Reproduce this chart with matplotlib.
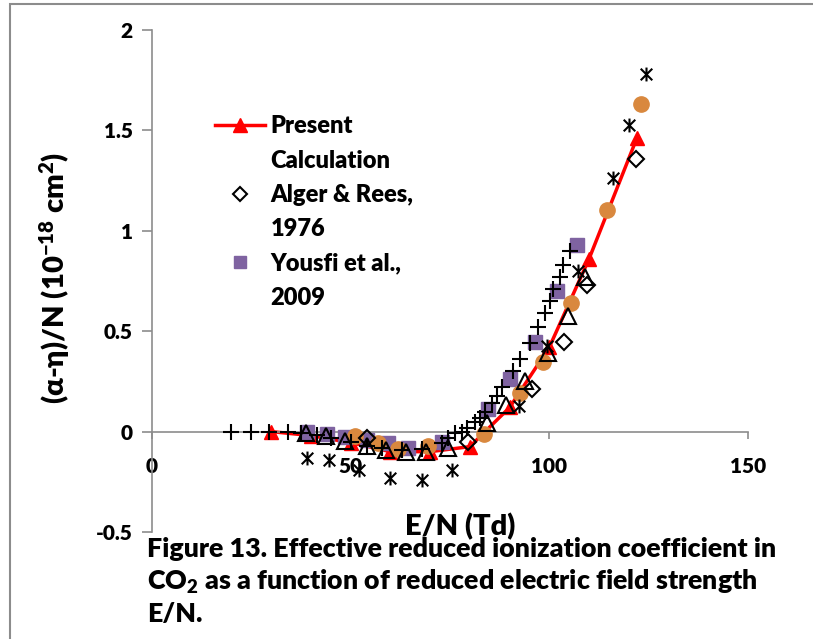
import matplotlib
matplotlib.use('Agg')
import matplotlib.pyplot as plt
from matplotlib.lines import Line2D
from matplotlib.path import Path
from matplotlib.patches import Rectangle

plt.rcParams['font.family'] = ['Lato', 'DejaVu Sans']
plt.rcParams['font.weight'] = 'heavy'
plt.rcParams['axes.labelweight'] = 'heavy'
plt.rcParams['axes.unicode_minus'] = False
plt.rcParams['mathtext.fontset'] = 'custom'
plt.rcParams['mathtext.rm'] = 'Lato:heavy'
plt.rcParams['mathtext.it'] = 'Lato:heavy'
plt.rcParams['mathtext.bf'] = 'Lato:heavy'

# present calculation (red line + triangles)
present_x = [30, 40, 50, 60, 70, 80, 90, 100, 110, 122]
present_y = [0.0, -0.02, -0.055, -0.10, -0.10, -0.075, 0.12, 0.42, 0.86, 1.46]

# Alger & Rees, 1976 (open diamonds)
alger_x = [54, 79.5, 95.6, 103.6, 109.4, 121.7]
alger_y = [-0.03, -0.05, 0.21, 0.445, 0.73, 1.36]

# Yousfi et al., 2009 (purple squares)
yousfi_x = [39, 44, 48.5, 54, 59.5, 64.5, 73, 84.5, 90, 96.5, 102, 107]
yousfi_y = [0.0, -0.01, -0.025, -0.04, -0.055, -0.08, -0.05, 0.11, 0.26, 0.445, 0.70, 0.93]

# other data sets (not in legend)
orange_x = [51, 57, 62, 69.5, 83.5, 92.5, 98.5, 105.5, 114.5, 123]
orange_y = [-0.02, -0.055, -0.085, -0.07, -0.01, 0.19, 0.345, 0.64, 1.105, 1.63]

plus_x = [20, 25, 29.5, 34.3, 37.5, 41.5, 45, 50, 54, 58, 63, 68, 73, 74.5,
          76.3, 78, 79.2, 81.3, 82.5, 83.8, 85.5, 86.8, 88, 90.8, 92.6, 95.1,
          97.1, 98.9, 100.1, 101, 102.6, 103.4, 105.2]
plus_y = [0.0, 0.0, 0.0, 0.0, -0.005, -0.015, -0.03, -0.05, -0.07, -0.08,
          -0.09, -0.085, -0.055, -0.03, -0.005, 0.0, 0.02, 0.05, 0.07, 0.10,
          0.14, 0.175, 0.22, 0.30, 0.36, 0.44, 0.52, 0.59, 0.65, 0.71, 0.77,
          0.83, 0.90]

star_x = [39, 44.5, 52, 60, 68, 75.5, 92.3, 99.4, 107.2, 116, 120, 124.3]
star_y = [-0.13, -0.14, -0.19, -0.23, -0.24, -0.19, 0.125, 0.425, 0.80,
          1.265, 1.525, 1.78]

tri_x = [38.7, 43.8, 48.6, 54, 59, 64, 69, 74.5, 84.3, 89, 94, 99.6, 104.7, 109]
tri_y = [-0.005, -0.02, -0.045, -0.07, -0.09, -0.10, -0.10, -0.08, 0.045,
         0.13, 0.25, 0.39, 0.575, 0.77]

x_ticks = [0, 50, 100, 150]
y_ticks = [-0.5, 0, 0.5, 1, 1.5, 2]
y_tick_labels = ['-0.5', '0', '0.5', '1', '1.5', '2']

caption = ('Figure 13. Effective reduced ionization coefficient in\n'
           'CO$_2$ as a function of reduced electric field strength\n'
           'E/N.')

purple = '#7F63A1'
orange = '#D9883E'
grey = '#8C8C8C'

# excel style star: x with a vertical bar
star = Path([(-1, -1), (1, 1), (-1, 1), (1, -1), (0, -1.2), (0, 1.2)],
            [Path.MOVETO, Path.LINETO, Path.MOVETO, Path.LINETO,
             Path.MOVETO, Path.LINETO])

fig = plt.figure(figsize=(8.13, 6.39), dpi=100)
ax = fig.add_axes([0.187, 0.1675, 0.733, 0.7855])

ax.plot(present_x, present_y, color='red', lw=2.5, marker='^', ms=10,
        zorder=2)
ax.plot(yousfi_x, yousfi_y, ls='none', marker='s', ms=10, color=purple,
        zorder=3)
ax.plot(orange_x, orange_y, ls='none', marker='o', ms=11, color=orange,
        zorder=3)
ax.plot(alger_x, alger_y, ls='none', marker='D', ms=8, mfc='none',
        mec='black', mew=1.5, zorder=4)
ax.plot(tri_x, tri_y, ls='none', marker='^', ms=11, mfc='none',
        mec='black', mew=1.5, zorder=4)
ax.plot(plus_x, plus_y, ls='none', marker='+', ms=11, color='black',
        mew=1.5, zorder=5)
ax.plot(star_x, star_y, ls='none', marker=star, ms=10, color='black',
        mew=1.5, zorder=5)

ax.set_xlim(0, 150)
ax.set_ylim(-0.5, 2)
ax.set_xticks(x_ticks)
ax.set_yticks(y_ticks)
ax.set_yticklabels(y_tick_labels)

for s in ['top', 'right']:
    ax.spines[s].set_visible(False)
ax.spines['bottom'].set_position(('data', 0))
ax.spines['bottom'].set_color(grey)
ax.spines['left'].set_color(grey)
ax.spines['bottom'].set_linewidth(1.2)
ax.spines['left'].set_linewidth(1.2)
ax.tick_params(axis='y', length=7, width=1.2, color=grey, pad=7,
               labelsize=15)
ax.tick_params(axis='x', length=5, width=1.2, color=grey, pad=13,
               labelsize=15)

ax.set_ylabel('(α-η)/N (10$^{-18}$ cm$^{2}$)', fontsize=21,
              fontweight='heavy', va='center')
ax.yaxis.set_label_coords(-0.163, 0.506)
ax.set_xlabel('E/N (Td)', fontsize=21, fontweight='heavy', va='center')
ax.xaxis.set_label_coords(0.517, 0.01)

# legend: one row per text line, blank handles for the second lines
blank = Line2D([], [], ls='none')
handles = [
    Line2D([], [], color='red', lw=2.5, marker='^', ms=10), blank,
    Line2D([], [], ls='none', marker='D', ms=7, mfc='white', mec='black',
           mew=1.5), blank,
    Line2D([], [], ls='none', marker='s', ms=9, color=purple), blank,
]
labels = ['Present', 'Calculation', 'Alger & Rees,', '1976',
          'Yousfi et al.,', '2009']
ax.legend(handles, labels, loc='upper left', bbox_to_anchor=(0.106, 0.83),
          frameon=False, fontsize=17, handlelength=2.1, handletextpad=0.25,
          labelspacing=0.52, borderpad=0, borderaxespad=0, numpoints=1)

fig.text(147 / 813, 1 - 537 / 639, caption, fontsize=19.3, va='top',
         ha='left', linespacing=1.3)

fig.add_artist(Rectangle((10 / 813, -0.02), 1.1, 1 - 4 / 639 + 0.02,
                         transform=fig.transFigure, fill=False,
                         edgecolor=grey, lw=1.5))

fig.savefig('out.png', dpi=100)
